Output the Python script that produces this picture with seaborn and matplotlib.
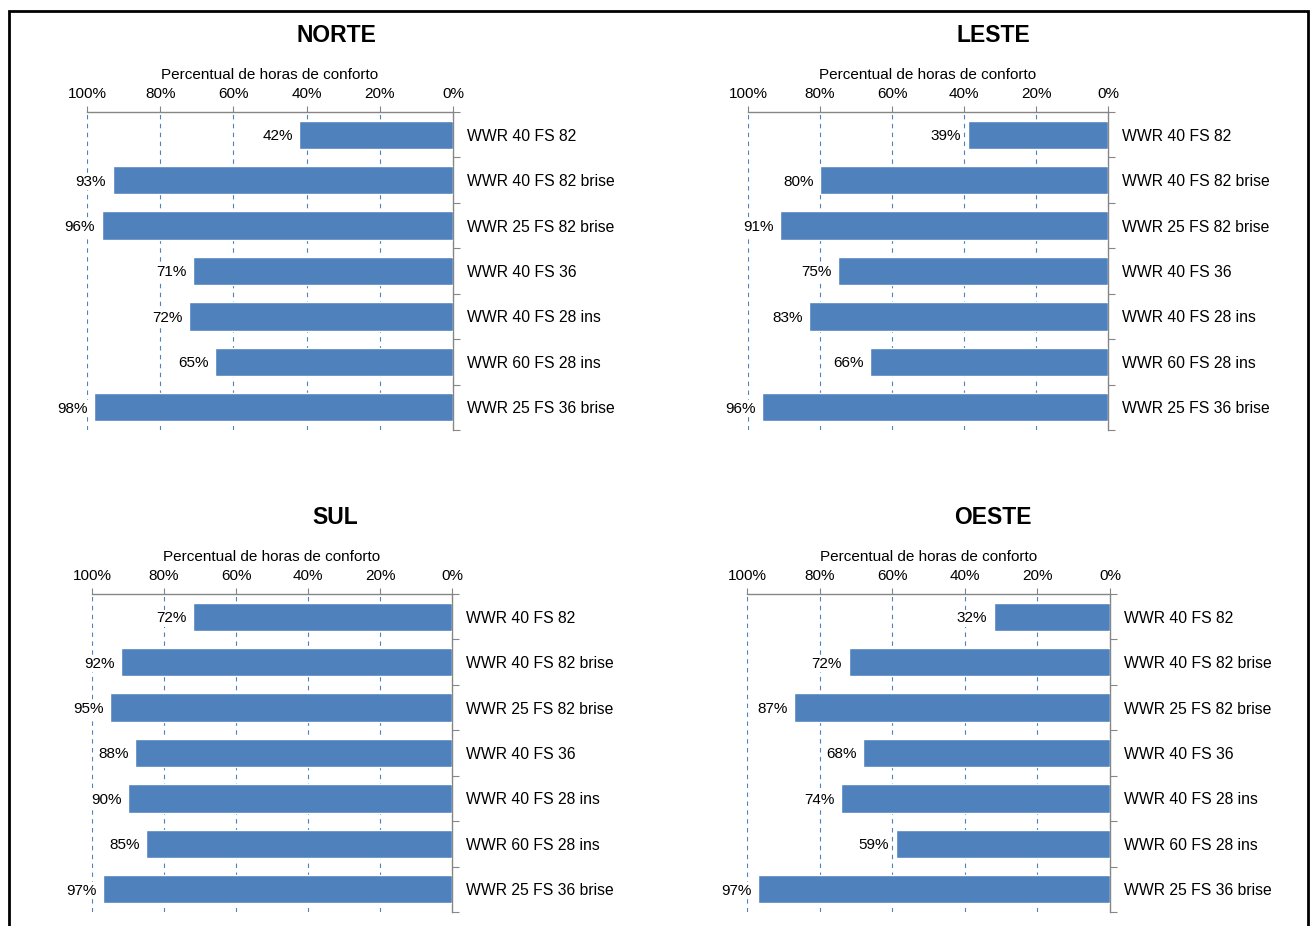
import matplotlib
matplotlib.use("Agg")
import matplotlib.pyplot as plt
from matplotlib.patches import Rectangle
from matplotlib.ticker import FixedLocator
import seaborn as sns
import pandas as pd

categorias = ["WWR 40 FS 82", "WWR 40 FS 82 brise", "WWR 25 FS 82 brise",
              "WWR 40 FS 36", "WWR 40 FS 28 ins", "WWR 60 FS 28 ins",
              "WWR 25 FS 36 brise"]
norte = [42, 93, 96, 71, 72, 65, 98]
leste = [39, 80, 91, 75, 83, 66, 96]
sul = [72, 92, 95, 88, 90, 85, 97]
oeste = [32, 72, 87, 68, 74, 59, 97]
x_ticks = [100, 80, 60, 40, 20, 0]

sns.set_theme(style="white")
plt.rcParams["font.family"] = ["Liberation Sans", "DejaVu Sans"]
plt.rcParams["text.color"] = "black"
plt.rcParams["axes.labelcolor"] = "black"
plt.rcParams["xtick.labelcolor"] = "black"
plt.rcParams["ytick.labelcolor"] = "black"

W, H = 1311, 926
fig = plt.figure(figsize=(W / 100, H / 100), dpi=100)

azul = "#4F81BD"
cinza = "#868686"

# (name, values, left px, right px, top px, bottom px, title x px, title y px)
paineis = [
    ("NORTE", norte, 87, 453, 112, 430, 336, 35),
    ("LESTE", leste, 748, 1108, 112, 430, 993, 35),
    ("SUL", sul, 92, 452, 594, 912, 335, 517),
    ("OESTE", oeste, 747, 1110, 594, 912, 993, 517),
]

for nome, vals, x0, x1, y0, y1, tx, ty in paineis:
    ax = fig.add_axes([x0 / W, 1 - y1 / H, (x1 - x0) / W, (y1 - y0) / H])
    df = pd.DataFrame({"cat": categorias, "val": vals})
    sns.barplot(data=df, x="val", y="cat", orient="h", color=azul,
                saturation=1, width=0.62, ax=ax, zorder=3)
    ax.set_xlim(100, 0)
    ax.set_ylim(len(categorias) - 0.5, -0.5)

    ax.xaxis.tick_top()
    ax.xaxis.set_label_position("top")
    ax.set_xticks(x_ticks)
    ax.set_xticklabels([f"{t}%" for t in x_ticks], fontsize=11)
    ax.set_xlabel("Percentual de horas de conforto", fontsize=11, labelpad=6)
    ax.tick_params(axis="x", which="major", top=True, bottom=False,
                   direction="out", length=4, width=0.8, color=cinza, pad=4)

    ax.yaxis.tick_right()
    ax.set_ylabel("")
    ax.tick_params(axis="y", which="major", length=0, pad=10, labelsize=11.3)
    ax.yaxis.set_minor_locator(FixedLocator([i - 0.5 for i in range(len(categorias) + 1)]))
    ax.tick_params(axis="y", which="minor", right=True, left=False,
                   direction="out", length=5, width=0.8, color=cinza)

    for s in ["left", "bottom"]:
        ax.spines[s].set_visible(False)
    for s in ["top", "right"]:
        ax.spines[s].set_color(cinza)
        ax.spines[s].set_linewidth(1)

    ax.grid(False)
    for t in x_ticks[:-1]:
        ax.axvline(t, color=azul, lw=0.8, ls=(0, (4, 4)), zorder=1)

    for i, v in enumerate(vals):
        ax.text(v + 1.8, i, f"{v}%", ha="right", va="center_baseline",
                fontsize=11, zorder=4,
                bbox=dict(facecolor="white", edgecolor="none", pad=1.0))

    fig.text(tx / W, 1 - ty / H, nome, ha="center", va="center",
             fontsize=16.5, fontweight="bold")

fig.add_artist(Rectangle((9 / W, -0.05), (1308 - 9) / W, 1 - 11 / H + 0.05,
                         transform=fig.transFigure, fill=False,
                         edgecolor="black", linewidth=2))

fig.savefig("out.png", dpi=100)
